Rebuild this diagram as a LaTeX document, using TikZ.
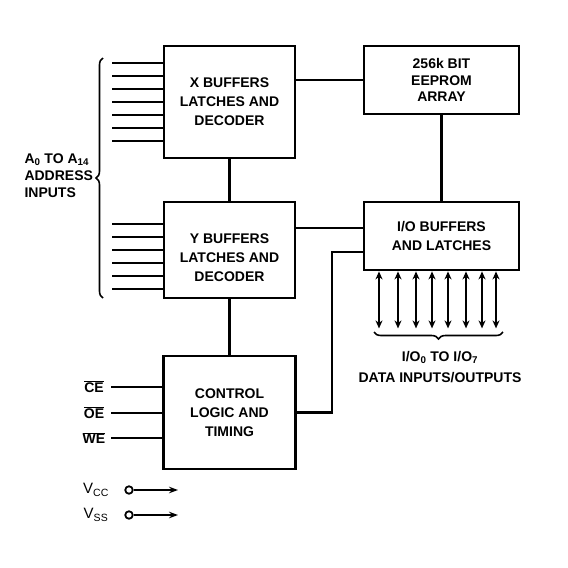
\documentclass[tikz,border=0pt]{standalone}
\usepackage{fontspec}
\setmainfont{Liberation Sans}
\usetikzlibrary{arrows.meta, positioning, decorations.pathreplacing}

\begin{document}
\begin{tikzpicture}[
  x=1pt, y=-1pt,
  box/.style  = {rectangle, draw, line width=2.8pt, inner sep=0pt, align=center,
                 font=\fontsize{14}{19}\selectfont\bfseries},
  wire/.style = {line width=2.4pt},
  bus/.style  = {{Stealth[length=8pt,width=7pt]}-{Stealth[length=8pt,width=7pt]}, line width=2pt},
  pwr/.style  = {-{Stealth[length=9pt,width=6.5pt]}, line width=1.8pt},
  pin/.style  = {circle, draw, line width=1.8pt, minimum size=7.5pt, inner sep=0pt},
  lbl/.style  = {align=center, font=\fontsize{14}{17}\selectfont\bfseries},
  brc/.style  = {decorate, decoration={brace, amplitude=7pt}, line width=1.6pt}
]
\useasboundingbox (0,0) rectangle (568,568);

% blocks
\node[box, minimum width=131pt, minimum height=112pt] (xbuf)   at (229.5,102)
      {X BUFFERS\\LATCHES AND\\DECODER};
\node[box, minimum width=131pt, minimum height=96pt,
      label={[lbl, font=\fontsize{14}{19}\selectfont\bfseries, yshift=-8pt]center:{Y BUFFERS\\LATCHES AND\\DECODER}}]
                                                          (ybuf)   at (229.5,250) {};
\node[box, minimum width=132pt, minimum height=113pt] (ctrl)   at (229.5,412.5)
      {CONTROL\\LOGIC AND\\TIMING};
\node[box, minimum width=155pt, minimum height=68pt,
      font=\fontsize{14}{16.5}\selectfont\bfseries]  (eeprom) at (441.5,80)
      {256k BIT\\EEPROM\\ARRAY};
\node[box, minimum width=155pt, minimum height=68pt]  (io)     at (441.5,236)
      {I/O BUFFERS\\AND LATCHES};

% internal connections
\draw[wire] (xbuf.east |- eeprom.west) -- (eeprom.west);
\draw[wire] (xbuf.south) -- (ybuf.north);
\draw[wire] (ybuf.south) -- (ctrl.north);
\draw[wire] (eeprom.south) -- (io.north);
\coordinate (yio) at ([yshift=8pt]io.west);
\draw[wire] (ybuf.east |- yio) -- (yio);
\draw[wire] (ctrl.east) -- ++(35,0) |- ([yshift=-16pt]io.west);

% address inputs
\foreach \y in {63,76,89,102,115,128,141}
  \draw[wire] (xbuf.west |- 0,\y) -- ++(-51,0);
\foreach \y in {224,237,250,263,276,289}
  \draw[wire] (ybuf.west |- 0,\y) -- ++(-51,0);
\coordinate (brtop) at (103,58);
\coordinate (brbot) at (103,298);
\draw[brc] (brbot) -- (brtop);
\node[lbl, align=left, anchor=west] (addr) at (21,176)
      {A\textsubscript{0} TO A\textsubscript{14}\\ADDRESS\\INPUTS};

% control inputs
\node[lbl] (ce) at (94,387) {$\overline{\hbox{CE}}$};
\node[lbl] (oe) at (94,413) {$\overline{\hbox{OE}}$};
\node[lbl] (we) at (94,438) {$\overline{\hbox{WE}}$};
\foreach \n in {ce,oe,we}
  \draw[wire] (ctrl.west |- \n) -- ++(-51,0);

% supply pins
\node[lbl, font=\fontsize{15}{17}\selectfont] (vcc) at (96,490) {V\textsubscript{CC}};
\node[lbl, font=\fontsize{15}{17}\selectfont] (vss) at (96,515) {V\textsubscript{SS}};
\node[pin] (vccpin) at (129,490) {};
\node[pin] (vsspin) at (129,515) {};
\draw[pwr] (vccpin) -- ++(49,0);
\draw[pwr] (vsspin) -- ++(49,0);

% data bus
\foreach \x in {379,398,416,432,448,466,482,496}
  \draw[bus] (io.south -| \x,0) -- ++(0,57);
\coordinate (bbl) at (374,332);
\coordinate (bbr) at (503,332);
\draw[brc] (bbr) -- (bbl);
\node[lbl, font=\fontsize{14}{21}\selectfont\bfseries] (data) at (440,367)
      {I/O\textsubscript{0} TO I/O\textsubscript{7}\\DATA INPUTS/OUTPUTS};
\end{tikzpicture}
\end{document}
